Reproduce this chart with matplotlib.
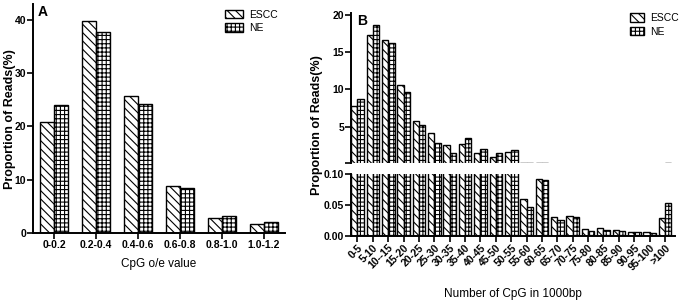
import matplotlib
matplotlib.use('Agg')
import matplotlib.pyplot as plt
from matplotlib import patches

plt.rcParams['font.family'] = ['Liberation Sans', 'DejaVu Sans']
plt.rcParams['hatch.linewidth'] = 0.8

# panel A data
oe_bins = ['0-0.2', '0.2-0.4', '0.4-0.6', '0.6-0.8', '0.8-1.0', '1.0-1.2']
oe_escc = [20.8, 39.9, 25.8, 8.9, 2.9, 1.6]
oe_ne = [24.1, 37.7, 24.3, 8.5, 3.2, 2.0]

# panel B data
cpg_bins = ['0-5', '5-10', '10--15', '15-20', '20-25', '25-30', '30-35', '35-40',
            '40-45', '45-50', '50-55', '55-60', '60-65', '65-70', '70-75', '75-80',
            '80-85', '85-90', '90-95', '95-100', '>100']
cpg_escc = [7.8, 17.3, 16.6, 10.6, 5.8, 4.1, 2.5, 2.6, 1.5, 0.9, 1.6,
            0.060, 0.092, 0.030, 0.032, 0.010, 0.012, 0.009, 0.006, 0.005, 0.029]
cpg_ne = [8.7, 18.7, 16.2, 9.6, 5.2, 2.8, 1.4, 3.5, 2.0, 1.5, 1.9,
          0.047, 0.091, 0.025, 0.030, 0.008, 0.009, 0.008, 0.005, 0.004, 0.053]

W, H = 680, 306
fig = plt.figure(figsize=(W / 100, H / 100), dpi=100)

DIAG = '\\\\\\\\'
GRID = '++++'


def px_axes(x0, y0, x1, y1):
    return fig.add_axes([x0 / W, 1 - y1 / H, (x1 - x0) / W, (y1 - y0) / H])


def style(ax, bottom=True):
    for s in ('top', 'right'):
        ax.spines[s].set_visible(False)
    ax.spines['left'].set_linewidth(1.4)
    ax.spines['bottom'].set_linewidth(1.4)
    if not bottom:
        ax.spines['bottom'].set_visible(False)
    ax.tick_params(direction='out', length=4, width=1.2, labelsize=7.5, pad=1)
    for lab in ax.get_yticklabels() + ax.get_xticklabels():
        lab.set_fontweight('bold')


def bars(ax, escc, ne, width):
    x = list(range(len(escc)))
    ax.bar([i - width / 2 for i in x], escc, width, color='white', edgecolor='black',
           hatch=DIAG, linewidth=1.0)
    ax.bar([i + width / 2 for i in x], ne, width, color='white', edgecolor='black',
           hatch=GRID, linewidth=1.0)


def legend(ax, loc_xy, hl):
    handles = [patches.Patch(facecolor='white', edgecolor='black', hatch=DIAG, label='ESCC'),
               patches.Patch(facecolor='white', edgecolor='black', hatch=GRID, label='NE')]
    ax.legend(handles=handles, loc='upper left', bbox_to_anchor=loc_xy, frameon=False,
              fontsize=7.5, handlelength=hl, handleheight=0.9, handletextpad=0.6,
              labelspacing=0.35, borderaxespad=0, borderpad=0)


# ---- panel A
axA = px_axes(33, 4, 285, 233)
bars(axA, oe_escc, oe_ne, 0.333)
axA.set_xlim(-0.5, 5.5)
axA.set_ylim(0, 43)
axA.set_yticks([0, 10, 20, 30, 40])
axA.set_xticks(range(len(oe_bins)))
axA.set_xticklabels(oe_bins)
style(axA)
axA.set_xlabel('CpG o/e value', fontsize=8.5, labelpad=6)
fig.text(10 / W, 1 - 119 / H, 'Proportion of Reads(%)', rotation=90, fontsize=9,
         fontweight='bold', ha='center', va='center')
axA.text(0.02, 0.995, 'A', transform=axA.transAxes, fontsize=10, fontweight='bold', va='top')
legend(axA, (192 / 252, 0.975), 1.7)

# ---- panel B (broken axis)
axBt = px_axes(351, 13, 675, 163)
axBb = px_axes(351, 174, 675, 235.5)
for ax in (axBt, axBb):
    bars(ax, cpg_escc, cpg_ne, 0.41)
    ax.set_xlim(-0.42, 20.65)
axBt.set_ylim(0.1, 20.3)
axBt.set_yticks([0.1, 5, 10, 15, 20])
axBt.set_yticklabels(['', '5', '10', '15', '20'])
axBt.set_xticks([])
style(axBt, bottom=False)
axBb.set_ylim(0, 0.1)
axBb.set_yticks([0, 0.05, 0.10])
axBb.set_yticklabels(['0.00', '0.05', '0.10'])
axBb.set_xticks(range(len(cpg_bins)))
axBb.set_xticklabels(cpg_bins, rotation=45, ha='right', rotation_mode='anchor')
style(axBb)
axBb.set_xlabel('Number of CpG in 1000bp', fontsize=8.5, labelpad=11)
fig.text(317 / W, 1 - 125 / H, 'Proportion of Reads(%)', rotation=90, fontsize=9,
         fontweight='bold', ha='center', va='center')
axBt.text(0.02, 0.995, 'B', transform=axBt.transAxes, fontsize=10, fontweight='bold', va='top')
legend(axBt, (279 / 324, 1.0), 1.3)

fig.savefig('out.png', dpi=100)
